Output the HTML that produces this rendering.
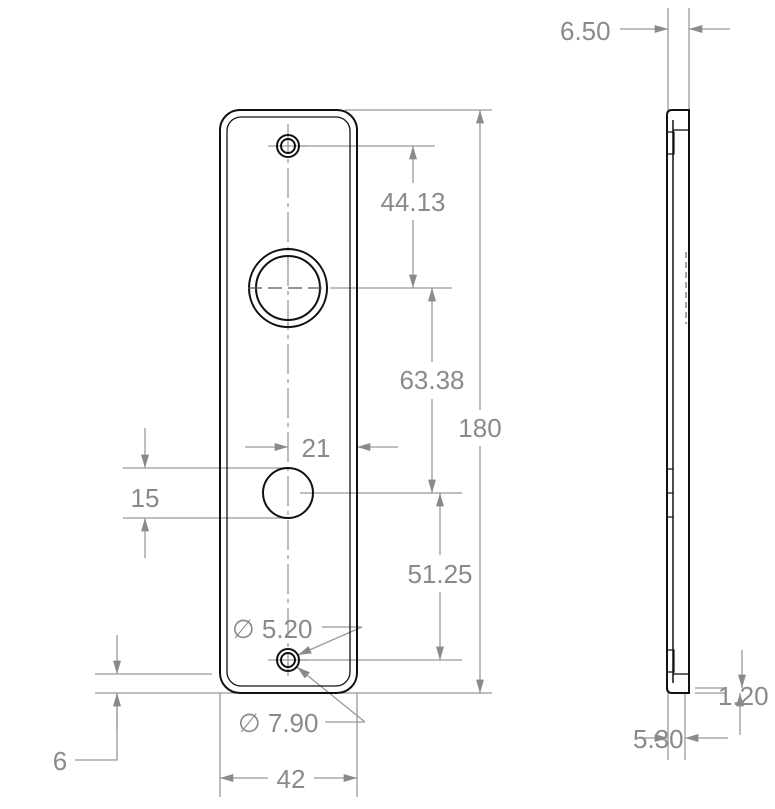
<!DOCTYPE html>
<html><head><style>body{margin:0;background:#fff}svg{display:block}text{font-family:"Liberation Sans",sans-serif;font-size:26px;fill:#8a8a8a}</style></head>
<body>
<svg width="775" height="809" viewBox="0 0 775 809" xmlns="http://www.w3.org/2000/svg">
<defs>
<marker id="a" viewBox="0 0 10 6" refX="10" refY="3" markerWidth="20" markerHeight="8" markerUnits="userSpaceOnUse" orient="auto"><path d="M0,0L10,3L0,6z" fill="#8a8a8a"/></marker>
</defs>
<g stroke="#999" stroke-width="1.3" fill="none">
<line x1="345" y1="110" x2="492" y2="110"/>
<line x1="300" y1="146" x2="435" y2="146"/>
<line x1="330" y1="288" x2="452" y2="288"/>
<line x1="300" y1="493" x2="462" y2="493"/>
<line x1="300" y1="660" x2="462" y2="660"/>
<line x1="95" y1="693" x2="492" y2="693"/>
<line x1="95" y1="674" x2="212" y2="674"/>
<line x1="123" y1="468" x2="288" y2="468"/>
<line x1="123" y1="518" x2="288" y2="518"/>
<line x1="220" y1="693" x2="220" y2="797"/>
<line x1="357" y1="693" x2="357" y2="797"/>
<line x1="668" y1="8" x2="668" y2="110"/>
<line x1="689" y1="8" x2="689" y2="110"/>
<line x1="668" y1="693" x2="668" y2="760"/>
<line x1="685" y1="693" x2="685" y2="760"/>
<line x1="695" y1="688" x2="725" y2="688"/>
<line x1="695" y1="693" x2="725" y2="693"/>
<line x1="480" y1="410" x2="480" y2="110" marker-end="url(#a)"/>
<line x1="480" y1="446" x2="480" y2="693" marker-end="url(#a)"/>
<line x1="413" y1="183" x2="413" y2="146" marker-end="url(#a)"/>
<line x1="413" y1="220" x2="413" y2="288" marker-end="url(#a)"/>
<line x1="432" y1="362" x2="432" y2="288" marker-end="url(#a)"/>
<line x1="432" y1="399" x2="432" y2="493" marker-end="url(#a)"/>
<line x1="440" y1="555" x2="440" y2="493" marker-end="url(#a)"/>
<line x1="440" y1="592" x2="440" y2="660" marker-end="url(#a)"/>
<line x1="245" y1="447" x2="288" y2="447" marker-end="url(#a)"/>
<line x1="398" y1="447" x2="357" y2="447" marker-end="url(#a)"/>
<line x1="145" y1="428" x2="145" y2="468" marker-end="url(#a)"/>
<line x1="145" y1="558" x2="145" y2="518" marker-end="url(#a)"/>
<line x1="117" y1="635" x2="117" y2="674" marker-end="url(#a)"/>
<polyline points="75,760 117,760 117,693" />
<line x1="117" y1="730" x2="117" y2="693" marker-end="url(#a)"/>
<line x1="268" y1="778" x2="220" y2="778" marker-end="url(#a)"/>
<line x1="314" y1="778" x2="357" y2="778" marker-end="url(#a)"/>
<polyline points="322,627 362,627"/>
<line x1="362" y1="627" x2="298" y2="655" marker-end="url(#a)"/>
<polyline points="325,722 365,722"/>
<line x1="365" y1="722" x2="297" y2="667" marker-end="url(#a)"/>
<line x1="620" y1="29" x2="668" y2="29" marker-end="url(#a)"/>
<line x1="730" y1="29" x2="689" y2="29" marker-end="url(#a)"/>
<line x1="640" y1="738" x2="668" y2="738" marker-end="url(#a)"/>
<line x1="728" y1="738" x2="685" y2="738" marker-end="url(#a)"/>
<line x1="742" y1="650" x2="742" y2="688" marker-end="url(#a)"/>
<line x1="740" y1="735" x2="740" y2="693" marker-end="url(#a)"/>
<line x1="288" y1="124" x2="288" y2="676" stroke-dasharray="30,5,4,5"/>
<line x1="268" y1="146" x2="308" y2="146"/>
<line x1="268" y1="660" x2="308" y2="660"/>
</g>
<g stroke="#111" stroke-width="2" fill="none">
<rect x="220" y="110" width="137" height="583" rx="20"/>
<rect x="227" y="117" width="123" height="569" rx="14" stroke-width="1.3"/>
<circle cx="288" cy="146" r="11"/><circle cx="288" cy="146" r="7"/>
<circle cx="288" cy="288" r="39"/><circle cx="288" cy="288" r="32"/>
<circle cx="288" cy="493" r="25"/>
<circle cx="288" cy="660" r="11"/><circle cx="288" cy="660" r="7"/>
<line x1="248" y1="288" x2="328" y2="288" stroke="#555" stroke-width="1.3" stroke-dasharray="14,6"/>
<path d="M672,110 L689,110 L689,693 L672,693 Q667,693 667,688 L667,115 Q667,110 672,110 Z"/>
<line x1="673" y1="120" x2="673" y2="683" stroke-width="1.5"/>
<line x1="673" y1="130" x2="689" y2="130" stroke-width="1.3"/>
<line x1="673" y1="674" x2="689" y2="674" stroke-width="1.3"/>
<path d="M668,132 h6 v22 h-6" stroke-width="1.2"/>
<path d="M668,650 h6 v22 h-6" stroke-width="1.2"/>
<line x1="673" y1="469" x2="668" y2="469" stroke-width="1.2"/>
<line x1="673" y1="493" x2="668" y2="493" stroke-width="1.2"/>
<line x1="673" y1="517" x2="668" y2="517" stroke-width="1.2"/>
<line x1="686" y1="252" x2="686" y2="324" stroke="#666" stroke-width="1.2" stroke-dasharray="6,4"/>
</g>
<text x="413" y="211" text-anchor="middle">44.13</text>
<text x="432" y="389" text-anchor="middle">63.38</text>
<text x="480" y="437" text-anchor="middle">180</text>
<text x="440" y="583" text-anchor="middle">51.25</text>
<text x="316" y="457" text-anchor="middle">21</text>
<text x="145" y="507" text-anchor="middle">15</text>
<text x="60" y="770" text-anchor="middle">6</text>
<text x="291" y="788" text-anchor="middle">42</text>
<text x="232" y="638">∅ 5.20</text>
<text x="238" y="732">∅ 7.90</text>
<text x="560" y="40">6.50</text>
<text x="633" y="748">5.30</text>
<text x="718" y="705">1.20</text>
</svg>
</body></html>
